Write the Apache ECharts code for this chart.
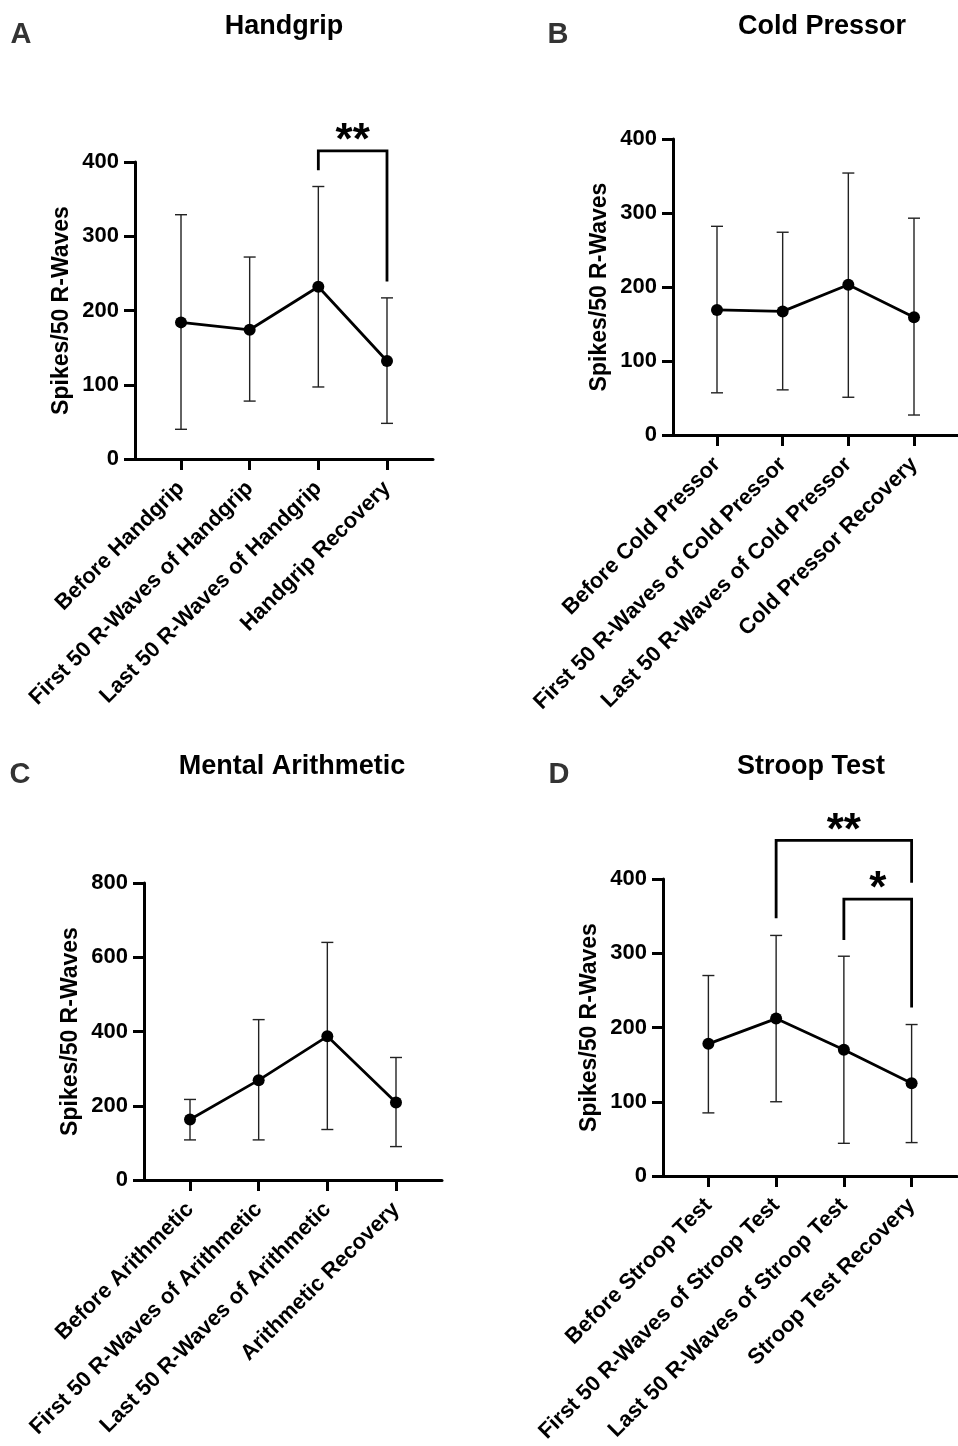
<!DOCTYPE html>
<html>
<head>
<meta charset="utf-8">
<script src="https://cdn.jsdelivr.net/npm/echarts@6/dist/echarts.min.js"></script>
<style>
html,body{margin:0;padding:0;background:#fff;}
#chart{width:958px;height:1446px;}
</style>
</head>
<body>
<div id="chart"></div>
<script>
// ---------- DATA ----------
const titleA = 'Handgrip';
const categoriesA = ['Before Handgrip', 'First 50 R-Waves of Handgrip', 'Last 50 R-Waves of Handgrip', 'Handgrip Recovery'];
const meanA  = [184, 174, 232, 132];
const upperA = [329, 272, 367, 217];
const lowerA = [40, 78, 97, 48];
const bracketsA = [[2, 3, 415, 389, 239]];
const starsA = ['**'];
const yTicksA = [0, 100, 200, 300, 400];

const titleB = 'Cold Pressor';
const categoriesB = ['Before Cold Pressor', 'First 50 R-Waves of Cold Pressor', 'Last 50 R-Waves of Cold Pressor', 'Cold Pressor Recovery'];
const meanB  = [169, 167, 203, 159];
const upperB = [282, 274, 354, 293];
const lowerB = [57, 61, 51, 27];
const bracketsB = [];
const starsB = [];
const yTicksB = [0, 100, 200, 300, 400];

const titleC = 'Mental Arithmetic';
const categoriesC = ['Before Arithmetic', 'First 50 R-Waves of Arithmetic', 'Last 50 R-Waves of Arithmetic', 'Arithmetic Recovery'];
const meanC  = [163, 269, 387, 209];
const upperC = [217, 432, 640, 330];
const lowerC = [108, 108, 136, 90];
const bracketsC = [];
const starsC = [];
const yTicksC = [0, 200, 400, 600, 800];

const titleD = 'Stroop Test';
const categoriesD = ['Before Stroop Test', 'First 50 R-Waves of Stroop Test', 'Last 50 R-Waves of Stroop Test', 'Stroop Test Recovery'];
const meanD  = [178, 212, 170, 125];
const upperD = [270, 324, 296, 204];
const lowerD = [85, 100, 44, 45];
// [fromIndex, toIndex, topValue, leftLegEnd, rightLegEnd]
const bracketsD = [[1, 3, 452, 347, 395], [2, 3, 373, 318, 227]];
const starsD = ['**', '*'];
const yTicksD = [0, 100, 200, 300, 400];

const yAxisName = 'Spikes/50 R-Waves';
const panelLetters = ['A', 'B', 'C', 'D'];

// ---------- LAYOUT ----------
const FONT = "'Liberation Sans', Arial, Helvetica, sans-serif";
const panels = [
  {title: titleA, cats: categoriesA, mean: meanA, up: upperA, lo: lowerA, br: bracketsA, st: starsA, ticks: yTicksA,
   grid: {left: 135, top: 162, width: 298, height: 297}},
  {title: titleB, cats: categoriesB, mean: meanB, up: upperB, lo: lowerB, br: bracketsB, st: starsB, ticks: yTicksB,
   grid: {left: 673, top: 139, width: 297, height: 296}},
  {title: titleC, cats: categoriesC, mean: meanC, up: upperC, lo: lowerC, br: bracketsC, st: starsC, ticks: yTicksC,
   grid: {left: 144, top: 883, width: 298, height: 297}},
  {title: titleD, cats: categoriesD, mean: meanD, up: upperD, lo: lowerD, br: bracketsD, st: starsD, ticks: yTicksD,
   grid: {left: 663, top: 879, width: 294, height: 297}}
];

const grids = [], xAxes = [], yAxes = [], series = [];
panels.forEach((p, k) => {
  grids.push(Object.assign({containLabel: false}, p.grid));
  const idx = p.cats.map((c, i) => i);
  xAxes.push({
    type: 'value', gridIndex: k, min: -0.67, max: 3.67,
    splitLine: {show: false},
    axisLine: {show: true, onZero: false, lineStyle: {color: '#000', width: 3}},
    axisTick: {show: true, customValues: idx, length: 11, lineStyle: {color: '#000', width: 3}},
    axisLabel: {show: true, customValues: idx, rotate: 45, margin: 26,
      formatter: v => p.cats[Math.round(v)] || '',
      color: '#000', fontSize: 22, fontWeight: 'bold', fontFamily: FONT}
  });
  const tmax = p.ticks[p.ticks.length - 1];
  yAxes.push({
    type: 'value', gridIndex: k, min: p.ticks[0], max: tmax, interval: p.ticks[1] - p.ticks[0],
    name: yAxisName, nameLocation: 'middle', nameGap: 62,
    nameTextStyle: {color: '#000', fontSize: 23, fontWeight: 'bold', fontFamily: FONT},
    splitLine: {show: false},
    axisLine: {show: true, onZero: false, lineStyle: {color: '#000', width: 3}},
    axisTick: {show: true, length: 11, lineStyle: {color: '#000', width: 3}},
    axisLabel: {color: '#000', fontSize: 22, fontWeight: 'bold', fontFamily: FONT, margin: 16}
  });
  // error bars
  series.push({
    type: 'custom', xAxisIndex: k, yAxisIndex: k, z: 1,
    data: idx.map(i => [i, p.lo[i], p.up[i]]),
    encode: {x: 0, y: [1, 2]},
    renderItem: (params, api) => {
      const x = api.value(0);
      const a = api.coord([x, api.value(1)]);
      const b = api.coord([x, api.value(2)]);
      const cw = 6;
      const st = {stroke: '#222', lineWidth: 1.4};
      return {type: 'group', children: [
        {type: 'line', shape: {x1: a[0], y1: a[1], x2: b[0], y2: b[1]}, style: st},
        {type: 'line', shape: {x1: a[0] - cw, y1: a[1], x2: a[0] + cw, y2: a[1]}, style: st},
        {type: 'line', shape: {x1: b[0] - cw, y1: b[1], x2: b[0] + cw, y2: b[1]}, style: st}
      ]};
    }
  });
  // mean line
  series.push({
    type: 'line', xAxisIndex: k, yAxisIndex: k, z: 3,
    data: idx.map(i => [i, p.mean[i]]),
    symbol: 'circle', symbolSize: 12,
    itemStyle: {color: '#000'},
    lineStyle: {color: '#000', width: 2.8},
    emphasis: {disabled: true}
  });
  // significance brackets
  if (p.br.length) {
    series.push({
      type: 'custom', xAxisIndex: k, yAxisIndex: k, z: 2, clip: false,
      data: p.br.map((b, j) => b.concat([j])),
      encode: {x: [0, 1], y: [2, 3, 4]},
      renderItem: (params, api) => {
        const f = api.value(0), t = api.value(1), top = api.value(2), le = api.value(3), re = api.value(4);
        const j = api.value(5);
        const p1 = api.coord([f, le]), p2 = api.coord([f, top]), p3 = api.coord([t, top]), p4 = api.coord([t, re]);
        return {type: 'group', children: [
          {type: 'polyline', shape: {points: [p1, p2, p3, p4]},
           style: {stroke: '#000', lineWidth: 2.8, fill: null}},
          {type: 'text', x: (p2[0] + p3[0]) / 2, y: p2[1] - 9,
           style: {text: p.st[j], fill: '#000', align: 'center', verticalAlign: 'middle',
             font: 'bold 44px ' + FONT}}
        ]};
      }
    });
  }
});

const letterPos = [[21, 35], [558, 35], [20, 775], [559, 775]];
const titlePos = [[284, 27], [822, 27], [292, 767], [811, 767]];
const graphic = [];
panels.forEach((p, k) => {
  graphic.push({type: 'text', x: letterPos[k][0], y: letterPos[k][1],
    style: {text: panelLetters[k], fill: '#333', align: 'center', verticalAlign: 'middle', font: 'bold 29px ' + FONT}});
  graphic.push({type: 'text', x: titlePos[k][0], y: titlePos[k][1],
    style: {text: p.title, fill: '#000', align: 'center', verticalAlign: 'middle', font: 'bold 27px ' + FONT}});
});

const chart = echarts.init(document.getElementById('chart'), null, {renderer: 'canvas'});
chart.setOption({
  animation: false,
  backgroundColor: '#fff',
  grid: grids, xAxis: xAxes, yAxis: yAxes, series: series, graphic: graphic
});
</script>
</body>
</html>
